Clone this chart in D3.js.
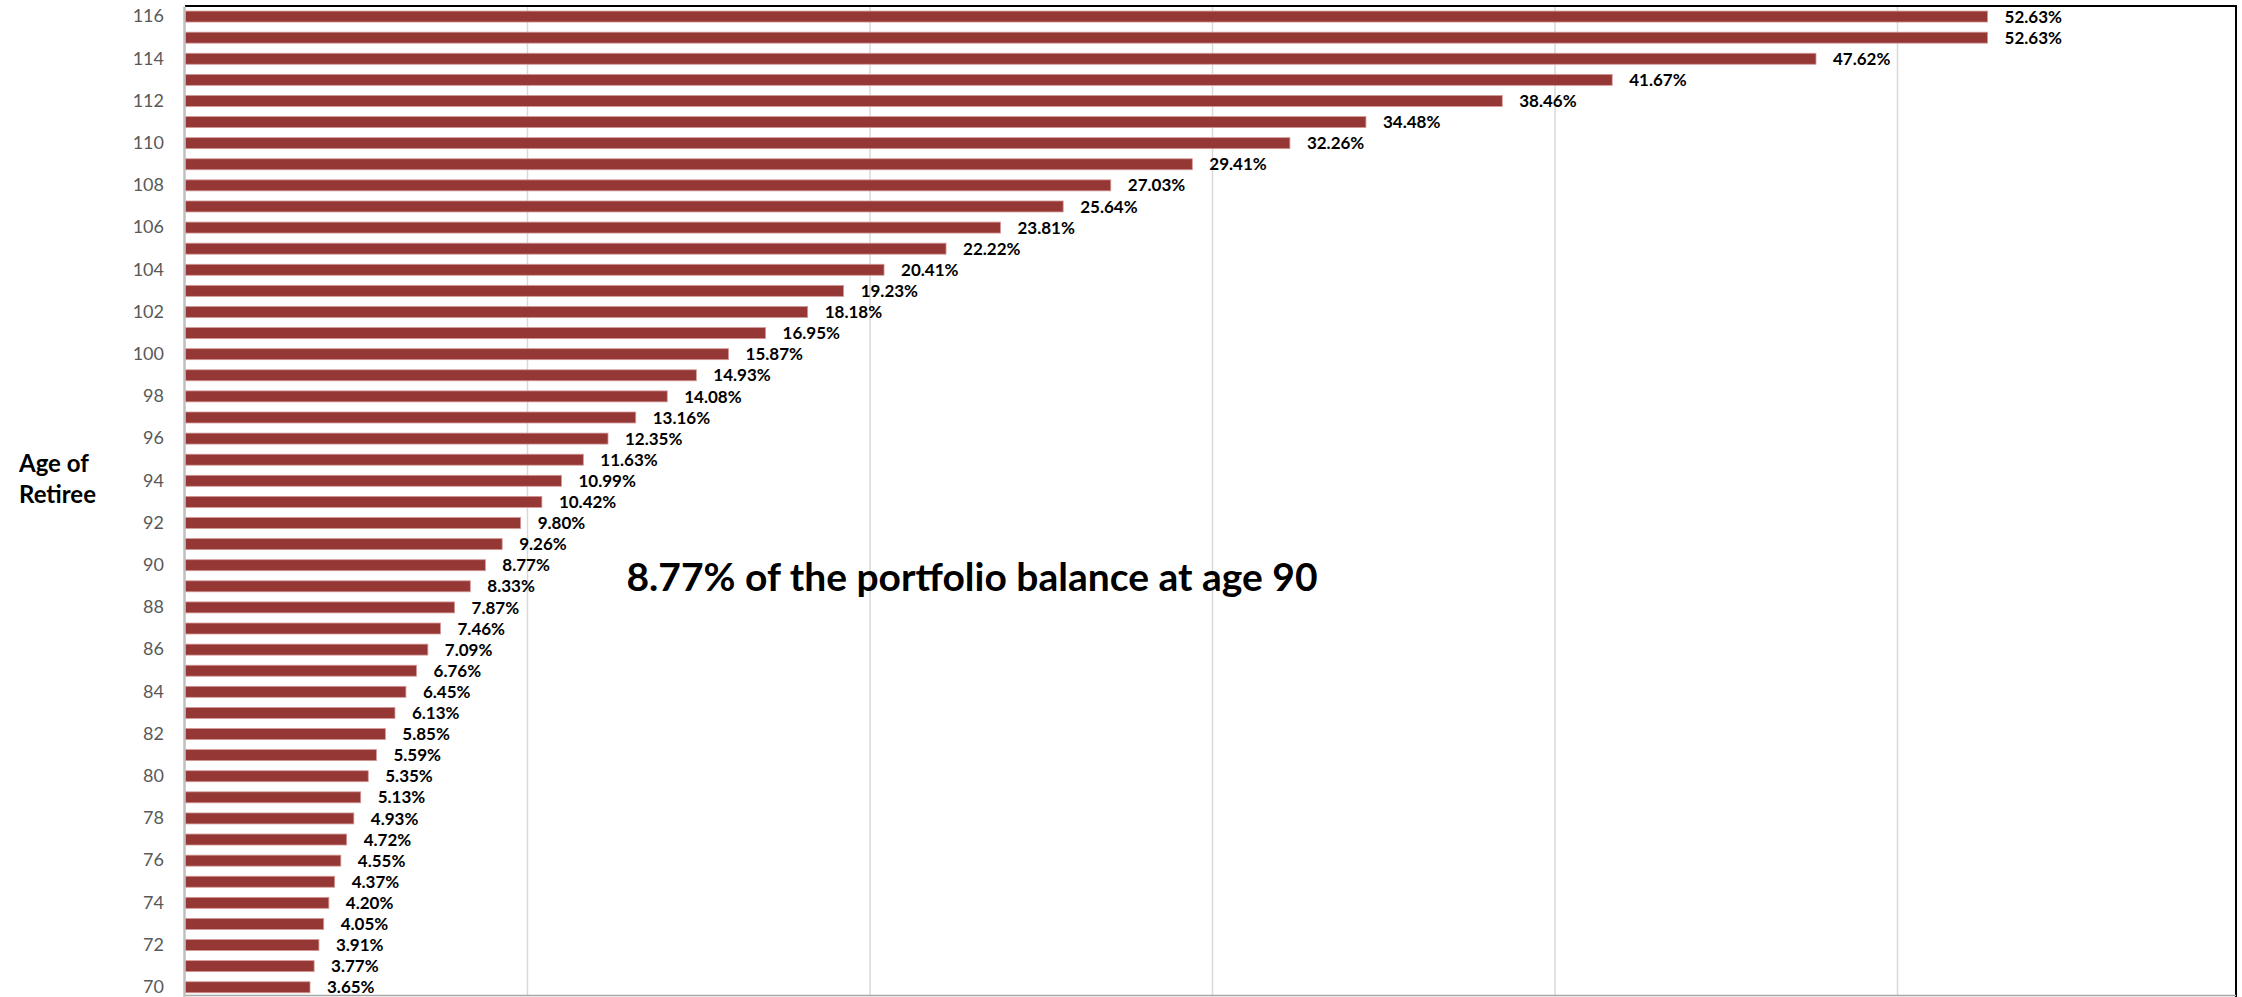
<!DOCTYPE html>
<html>
<head>
<meta charset="utf-8">
<script src="https://cdn.jsdelivr.net/npm/d3@7"></script>
<style>
  body { margin: 0; background: #fff; }
  svg { display: block; font-family: Lato, "Open Sans", sans-serif; }
</style>
</head>
<body>
<svg id="chart" width="2242" height="997"></svg>
<script>
// ages from oldest (top) to youngest (bottom)
const ages = d3.range(116, 69, -1);

// withdrawal percent of portfolio balance, same order as ages
const pct = [
  52.63, 52.63, 47.62, 41.67, 38.46, 34.48, 32.26, 29.41, 27.03, 25.64,
  23.81, 22.22, 20.41, 19.23, 18.18, 16.95, 15.87, 14.93, 14.08, 13.16,
  12.35, 11.63, 10.99, 10.42, 9.80, 9.26, 8.77, 8.33, 7.87, 7.46,
  7.09, 6.76, 6.45, 6.13, 5.85, 5.59, 5.35, 5.13, 4.93, 4.72,
  4.55, 4.37, 4.20, 4.05, 3.91, 3.77, 3.65
];

const xTicks = [0, 10, 20, 30, 40, 50, 60];
const yTickAges = d3.range(116, 69, -2);

const axisTitle = ['Age of', 'Retiree'];
const note = '8.77% of the portfolio balance at age 90';

const data = ages.map((a, i) => ({ age: a, value: pct[i] }));

const svg = d3.select('#chart');

const plot = { left: 185, right: 2240, top: 6, bottom: 997.8 };

const x = d3.scaleLinear().domain([0, 60]).range([plot.left, plot.right]);
const y = d3.scaleBand()
  .domain(ages)
  .range([plot.top, plot.bottom])
  .paddingInner(0.48)
  .paddingOuter(0.24);

// gridlines
svg.append('g')
  .selectAll('line')
  .data(xTicks.slice(1, -1))
  .enter()
  .append('line')
  .attr('x1', d => x(d))
  .attr('x2', d => x(d))
  .attr('y1', plot.top)
  .attr('y2', 995)
  .style('stroke', '#d9d9d9')
  .style('stroke-width', '1.5px');

// bars
svg.append('g')
  .selectAll('rect')
  .data(data)
  .enter()
  .append('rect')
  .attr('x', x(0))
  .attr('y', d => y(d.age))
  .attr('width', d => x(d.value) - x(0))
  .attr('height', y.bandwidth())
  .style('fill', '#953735')
  .style('stroke', '#d49896')
  .style('stroke-width', '0.8px');

// value labels
svg.append('g')
  .selectAll('text')
  .data(data)
  .enter()
  .append('text')
  .attr('x', d => x(d.value) + 17)
  .attr('y', d => y(d.age) + y.bandwidth() / 2)
  .attr('dy', '0.36em')
  .style('font-size', '17px')
  .style('font-weight', 'bold')
  .style('fill', '#000')
  .text(d => d.value.toFixed(2) + '%');

// frame: black top and right, gray bottom
svg.append('line')
  .attr('x1', plot.left).attr('x2', 2237)
  .attr('y1', 6).attr('y2', 6)
  .style('stroke', '#000').style('stroke-width', '2px');
svg.append('line')
  .attr('x1', 2236).attr('x2', 2236)
  .attr('y1', 5).attr('y2', 997)
  .style('stroke', '#000').style('stroke-width', '2px');
svg.append('line')
  .attr('x1', plot.left).attr('x2', 2236)
  .attr('y1', 995.5).attr('y2', 995.5)
  .style('stroke', '#a6a6a6').style('stroke-width', '1.5px');

// y axis
const yAxis = d3.axisLeft(y)
  .tickValues(yTickAges)
  .tickSize(0)
  .tickPadding(20);

const yg = svg.append('g')
  .attr('transform', 'translate(' + (plot.left - 1) + ',0)')
  .call(yAxis);
yg.select('.domain')
  .style('stroke', '#bfbfbf')
  .style('stroke-width', '2.5px');
yg.selectAll('text')
  .style('font-family', 'Lato, sans-serif')
  .style('font-size', '18px')
  .style('fill', '#595959');

// axis title
svg.append('text')
  .attr('x', 19)
  .attr('y', 471.5)
  .style('font-size', '24px')
  .style('font-weight', 'bold')
  .selectAll('tspan')
  .data(axisTitle)
  .enter()
  .append('tspan')
  .attr('x', 19)
  .attr('dy', (d, i) => i === 0 ? 0 : 31)
  .text(d => d);

// annotation
svg.append('text')
  .attr('x', 972)
  .attr('y', 591)
  .attr('text-anchor', 'middle')
  .style('font-size', '39px')
  .style('font-weight', 'bold')
  .style('fill', '#000')
  .text(note);
</script>
</body>
</html>
